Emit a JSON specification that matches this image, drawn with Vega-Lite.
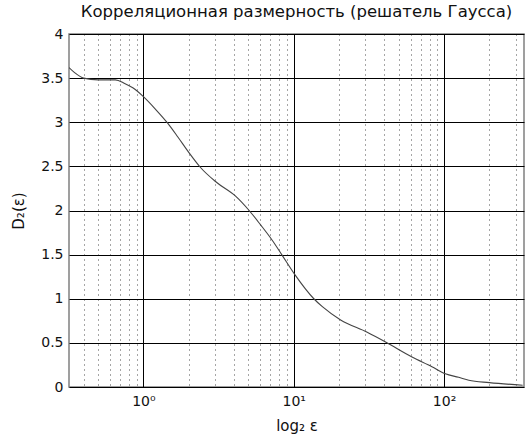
{
  "$schema": "https://vega.github.io/schema/vega-lite/v6.json",
  "width": 455,
  "height": 353,
  "autosize": "none",
  "padding": {"left": 69, "top": 34, "right": 1, "bottom": 52},
  "background": "white",
  "title": {"text": "Корреляционная размерность (решатель Гаусса)", "font": "DejaVu Sans", "fontSize": 16.5, "fontWeight": "normal", "color": "#111", "offset": 7},
  "config": {
    "view": {"stroke": "#808080", "strokeWidth": 1.5},
    "axis": {"labelFont": "DejaVu Sans", "titleFont": "DejaVu Sans", "labelFontSize": 14, "titleFontSize": 15, "titleFontWeight": "normal", "labelColor": "#111", "titleColor": "#111", "domain": false, "ticks": false}
  },
  "data": {"values": [
    {"eps": 0.32, "d2": 3.62},
    {"eps": 0.35, "d2": 3.56},
    {"eps": 0.4, "d2": 3.5},
    {"eps": 0.5, "d2": 3.48},
    {"eps": 0.65, "d2": 3.48},
    {"eps": 0.75, "d2": 3.44},
    {"eps": 0.85, "d2": 3.39},
    {"eps": 1.0, "d2": 3.29},
    {"eps": 1.2, "d2": 3.15},
    {"eps": 1.45, "d2": 2.99},
    {"eps": 1.7, "d2": 2.83},
    {"eps": 2.02, "d2": 2.65},
    {"eps": 2.39, "d2": 2.49},
    {"eps": 3.06, "d2": 2.32},
    {"eps": 4.12, "d2": 2.16},
    {"eps": 5.05, "d2": 2.0},
    {"eps": 6.0, "d2": 1.84},
    {"eps": 7.21, "d2": 1.66},
    {"eps": 8.32, "d2": 1.5},
    {"eps": 10.2, "d2": 1.27},
    {"eps": 13.6, "d2": 1.0},
    {"eps": 15.5, "d2": 0.91},
    {"eps": 20.5, "d2": 0.76},
    {"eps": 30.8, "d2": 0.62},
    {"eps": 40.8, "d2": 0.51},
    {"eps": 61.2, "d2": 0.34},
    {"eps": 83, "d2": 0.23},
    {"eps": 102, "d2": 0.15},
    {"eps": 125, "d2": 0.11},
    {"eps": 146, "d2": 0.076},
    {"eps": 200, "d2": 0.05},
    {"eps": 333, "d2": 0.02}
  ]},
  "mark": {"type": "line", "color": "#444", "strokeWidth": 1.1, "clip": true, "interpolate": "monotone"},
  "encoding": {
    "x": {"field": "eps", "type": "quantitative",
      "scale": {"type": "log", "domain": [0.32, 340], "nice": false},
      "axis": {
        "title": "log₂ ε", "titlePadding": 10,
        "values": [0.4,0.5,0.6,0.7,0.8,0.9,1,2,3,4,5,6,7,8,9,10,20,30,40,50,60,70,80,90,100,200,300],
        "labelExpr": "datum.value == 1 ? '10⁰' : datum.value == 10 ? '10¹' : datum.value == 100 ? '10²' : ''",
        "labelOverlap": false, "labelPadding": 7,
        "grid": true, "gridColor": "#000", "gridWidth": 1,
        "gridOpacity": {"condition": {"test": "datum.value == 1 || datum.value == 10 || datum.value == 100", "value": 1}, "value": 0.7},
        "gridDash": {"condition": {"test": "datum.value == 1 || datum.value == 10 || datum.value == 100", "value": []}, "value": [1, 4]}
      }
    },
    "y": {"field": "d2", "type": "quantitative",
      "scale": {"domain": [0, 4], "nice": false},
      "axis": {
        "title": "D₂(ε)", "titlePadding": 14,
        "values": [0,0.5,1,1.5,2,2.5,3,3.5,4],
        "labelExpr": "'' + datum.value",
        "labelPadding": 6,
        "grid": true, "gridColor": "#000", "gridOpacity": 1, "gridWidth": 1
      }
    }
  }
}
